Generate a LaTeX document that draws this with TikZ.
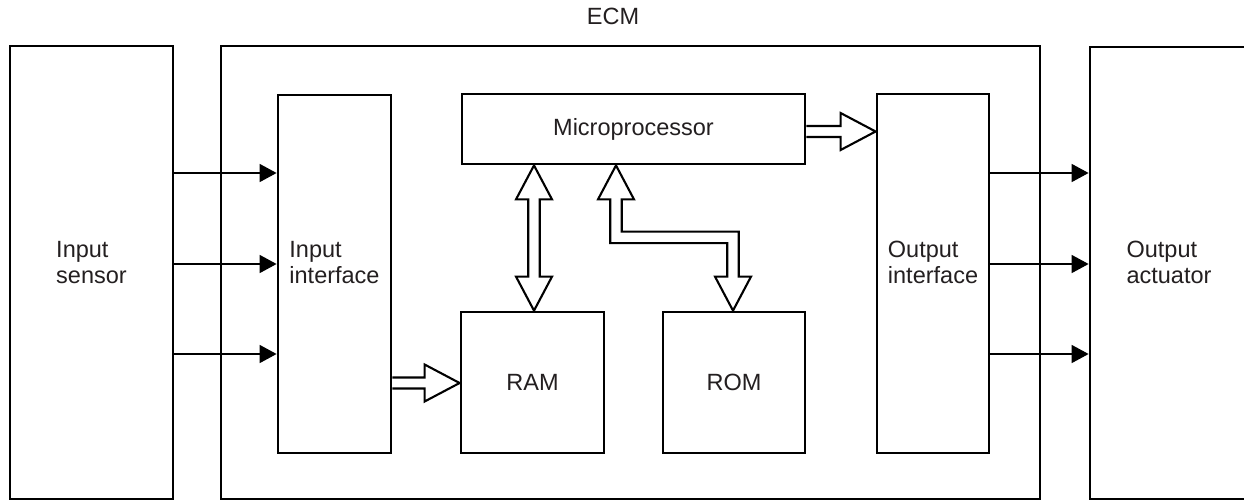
\documentclass[tikz,border=0pt]{standalone}
\usepackage{fontspec}
\setmainfont{Liberation Sans}
\usetikzlibrary{arrows.meta,calc}
\definecolor{txt}{RGB}{35,31,32}
\begin{document}
\begin{tikzpicture}[x=1pt,y=-1pt,
  box/.style={draw=black,line width=2.8pt,inner sep=0pt,minimum width=#1},
  lbl/.style={text=txt,font=\fontsize{23.5}{26}\selectfont,align=left,inner sep=0pt},
  thinarrow/.style={line width=1.6pt,-{Triangle[length=17pt,width=18pt]}},
  hollow/.style={draw=black,fill=white,line width=2.1pt,line join=miter}]
\useasboundingbox (0,0) rectangle (1244,501);
\fill[white] (0,0) rectangle (1244,501);
% boxes
\node[box=163pt,minimum height=453pt] (sensor) at (91.5,272.5) {};
\node[box=819pt,minimum height=453pt] (ecm) at (630.5,272.5) {};
\node[box=113pt,minimum height=358pt] (inif) at (334.5,274) {};
\node[box=343pt,minimum height=70pt,lbl,draw=black,line width=2.8pt] (mp) at (633.5,129) {Microprocessor};
\node[box=143pt,minimum height=141pt,lbl,draw=black,line width=2.8pt] (ram) at (532.5,382.5) {RAM};
\node[box=142pt,minimum height=141pt,lbl,draw=black,line width=2.8pt] (rom) at (734,382.5) {ROM};
\node[box=112pt,minimum height=359pt] (outif) at (933,273.5) {};
\node[box=158pt,minimum height=452pt] (act) at (1169,273) {};
% labels
\node[lbl] (ecmlbl) at (613,16.5) {ECM};
\node[lbl] (sensorlbl) at (sensor.center |- 0,262.5) {Input\\sensor};
\node[lbl] (iniflbl) at (inif.center |- 0,262.5) {Input\\interface};
\node[lbl] (outiflbl) at (outif.center |- 0,262.5) {Output\\interface};
\node[lbl] (actlbl) at (act.center |- 0,262.5) {Output\\actuator};
% thin arrows
\foreach \yy in {173,264,354}{
  \draw[thinarrow] (sensor.east |- 0,\yy) -- (inif.west |- 0,\yy);
  \draw[thinarrow] (outif.east |- 0,\yy) -- (act.west |- 0,\yy);
}
% hollow arrow input interface -> RAM
\coordinate (a1s) at (inif.east |- 0,383);
\coordinate (a1e) at (ram.west |- 0,383);
\draw[hollow] (a1s) ++(0,-5.5) -- ($(a1e)+(-35,-5.5)$) -- ++(0,-13) -- (a1e) -- ($(a1e)+(-35,18.5)$) -- ++(0,-13) -- ($(a1s)+(0,5.5)$);
% hollow arrow microprocessor -> output interface
\coordinate (a2s) at (mp.east |- 0,131.5);
\coordinate (a2e) at (outif.west |- 0,131.5);
\draw[hollow] (a2s) ++(0,-5.5) -- ($(a2e)+(-35,-5.5)$) -- ++(0,-13) -- (a2e) -- ($(a2e)+(-35,18.5)$) -- ++(0,-13) -- ($(a2s)+(0,5.5)$);
% bidirectional microprocessor <-> RAM
\coordinate (t1) at (mp.south -| 534,0);
\coordinate (b1) at (ram.north -| 534,0);
\draw[hollow] (t1) -- ++(18,34) -- ++(-12.25,0) -- ($(b1)+(5.75,-34)$) -- ++(12.25,0) -- (b1)
  -- ++(-18,-34) -- ++(12.25,0) -- ($(t1)+(-5.75,34)$) -- ++(-12.25,0) -- cycle;
% bidirectional microprocessor <-> ROM (bent)
\coordinate (t2) at (mp.south -| 616,0);
\coordinate (b2) at (rom.north -| 733,0);
\draw[hollow] (t2) -- ++(18,34) -- ++(-12.25,0) -- ($(t2)+(5.75,66.25)$) -| ($(b2)+(5.75,-34)$) -- ++(12.25,0) -- (b2)
  -- ++(-18,-34) -- ++(12.25,0) -- ($(t2)+(0,77.75)+(111.25,0)$) -| ($(t2)+(-5.75,34)$) -- ++(-12.25,0) -- cycle;
\end{tikzpicture}
\end{document}
